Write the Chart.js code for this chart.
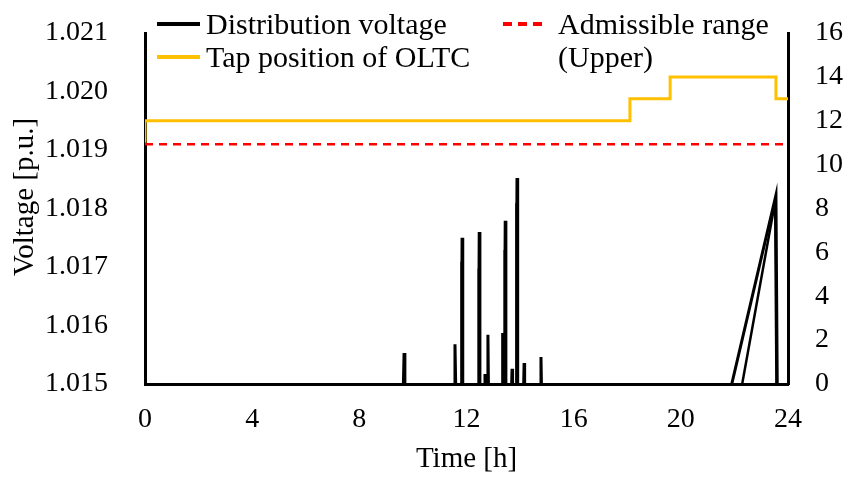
<!DOCTYPE html>
<html><head><meta charset="utf-8">
<script src="https://cdn.jsdelivr.net/npm/chart.js@4.4.1/dist/chart.umd.min.js"></script>
<style>html,body{margin:0;padding:0;background:#fff;overflow:hidden}#wrap{width:847px;height:477px;position:relative}</style>
</head><body><div id="wrap"><canvas id="c" width="847" height="477"></canvas></div>
<script>
// ---- data ----
const seriesLabels = ['Distribution voltage', 'Tap position of OLTC', 'Admissible range (Upper)'];
const xTitle = 'Time [h]';
const yTitle = 'Voltage [p.u.]';
const xTickValues = [0, 4, 8, 12, 16, 20, 24];
const voltageTicks = [1.015, 1.016, 1.017, 1.018, 1.019, 1.020, 1.021];
const tapTicks = [0, 2, 4, 6, 8, 10, 12, 14, 16];

// distribution voltage (bus A): spikes and evening ramp
const voltTimes = [0, 9.64, 9.67, 9.70, 11.54, 11.57, 11.60,
  11.80, 11.815, 11.825, 11.835, 11.86,
  12.44, 12.455, 12.465, 12.475, 12.50,
  12.67, 12.69, 12.71, 12.78, 12.80, 12.82, 13.33, 13.35, 13.37,
  13.41, 13.425, 13.435, 13.445, 13.47,
  13.68, 13.70, 13.72,
  13.85, 13.865, 13.875, 13.885, 13.91,
  14.13, 14.15, 14.17, 14.76, 14.78, 14.80, 21.85, 23.55, 23.60, 24];
const voltValues = [1.0149, 1.0149, 1.01553, 1.0149, 1.0149, 1.01568, 1.0149,
  1.0149, 1.01709, 1.0162, 1.0175, 1.0149,
  1.0149, 1.01697, 1.0162, 1.0176, 1.0149,
  1.0149, 1.01517, 1.0149, 1.0149, 1.01584, 1.0149, 1.0149, 1.01587, 1.0149,
  1.0149, 1.01729, 1.0164, 1.01779, 1.0149,
  1.0149, 1.01526, 1.0149,
  1.0149, 1.01809, 1.0172, 1.01852, 1.0149,
  1.0149, 1.01536, 1.0149, 1.0149, 1.01546, 1.0149, 1.0149, 1.01823, 1.0149, 1.0149];
// distribution voltage (bus B): second evening ramp
const volt2Times = [0, 22.25, 23.52, 23.57, 24];
const volt2Values = [1.0149, 1.0149, 1.01812, 1.0149, 1.0149];

// tap position of OLTC (stepped)
const tapTimes = [0, 0, 18.1, 19.6, 23.55, 24];
const tapValues = [11, 12, 13, 14, 13, 13];

// admissible range (upper)
const limitTimes = [0, 24];
const limitValues = [1.0191, 1.0191];

const toXY = (xs, ys) => xs.map((x, i) => ({x: x, y: ys[i]}));
const FONT = 'Liberation Serif';

const legendPlugin = {
  id: 'customLegend',
  afterDraw(chart) {
    const ctx = chart.ctx;
    const items = [
      {ds: 0, x: 157, y: 24, tx: 206, lines: [seriesLabels[0]]},
      {ds: 2, x: 157, y: 57, tx: 206, lines: [seriesLabels[1]]},
      {ds: 3, x: 503, y: 24, tx: 558, lines: ['Admissible range', '(Upper)']}
    ];
    ctx.save();
    ctx.font = '30px "' + FONT + '"';
    ctx.textBaseline = 'alphabetic';
    ctx.fillStyle = '#000';
    items.forEach(it => {
      const d = chart.data.datasets[it.ds];
      ctx.strokeStyle = d.borderColor;
      ctx.lineWidth = 4;
      ctx.setLineDash(d.borderDash ? [9, 6] : []);
      ctx.beginPath();
      ctx.moveTo(it.x, it.y);
      ctx.lineTo(it.x + 43, it.y);
      ctx.stroke();
      ctx.setLineDash([]);
      it.lines.forEach((ln, i) => ctx.fillText(ln, it.tx, it.y + 10 + i * 33));
    });
    // left axis title
    ctx.font = '29px "' + FONT + '"';
    ctx.textAlign = 'center';
    ctx.textBaseline = 'middle';
    ctx.translate(25, 197);
    ctx.rotate(-Math.PI / 2);
    ctx.fillText(yTitle, 0, 0);
    ctx.restore();
  }
};

const noPad = s => { s.paddingTop = 0; s.paddingBottom = 0; s.paddingLeft = 0; s.paddingRight = 0; };

function draw() {
new Chart(document.getElementById('c'), {
  type: 'line',
  data: {
    datasets: [
      {label: seriesLabels[0], data: toXY(voltTimes, voltValues), yAxisID: 'y', borderColor: '#000', borderWidth: 3, pointRadius: 0, tension: 0},
      {label: seriesLabels[0] + ' B', data: toXY(volt2Times, volt2Values), yAxisID: 'y', borderColor: '#000', borderWidth: 2.5, pointRadius: 0, tension: 0},
      {label: seriesLabels[1], data: toXY(tapTimes, tapValues), yAxisID: 'y2', borderColor: '#FFC000', borderWidth: 3, pointRadius: 0, stepped: 'before'},
      {label: seriesLabels[2], data: toXY(limitTimes, limitValues), yAxisID: 'y', borderColor: '#FF0000', borderWidth: 2.5, borderDash: [8, 6], pointRadius: 0}
    ]
  },
  options: {
    responsive: false,
    animation: false,
    devicePixelRatio: 1,
    layout: {padding: {top: 33, left: 0, right: 0, bottom: 0}},
    plugins: {legend: {display: false}, tooltip: {enabled: false}},
    scales: {
      x: {
        type: 'linear', min: 0, max: 24,
        afterBuildTicks: s => { s.ticks = xTickValues.map(v => ({value: v})); },
        afterFit: s => { s.height = 93; noPad(s); },
        ticks: {font: {family: FONT, size: 28}, color: '#000', padding: 19, maxRotation: 0},
        grid: {display: false, drawTicks: false},
        border: {display: true, color: '#000', width: 3},
        title: {display: true, text: xTitle, font: {family: FONT, size: 29}, color: '#000', padding: {top: 0, bottom: 0}}
      },
      y: {
        position: 'left', min: 1.015, max: 1.021,
        afterBuildTicks: s => { s.ticks = voltageTicks.map(v => ({value: v})); },
        afterFit: s => { s.width = 145; noPad(s); },
        ticks: {font: {family: FONT, size: 28}, color: '#000', padding: 37, callback: v => Number(v).toFixed(3)},
        grid: {display: false, drawTicks: false},
        border: {display: true, color: '#000', width: 3},
        title: {display: false, text: yTitle}
      },
      y2: {
        position: 'right', min: 0, max: 16,
        afterBuildTicks: s => { s.ticks = tapTicks.map(v => ({value: v})); },
        afterFit: s => { s.width = 59; noPad(s); },
        ticks: {font: {family: FONT, size: 28}, color: '#000', padding: 27},
        grid: {display: false, drawTicks: false},
        border: {display: true, color: '#000', width: 3}
      }
    }
  },
  plugins: [legendPlugin]
});
}
if (document.fonts && document.fonts.load) {
  document.fonts.load('28px "' + FONT + '"').then(draw, draw);
} else { draw(); }
</script></body></html>
